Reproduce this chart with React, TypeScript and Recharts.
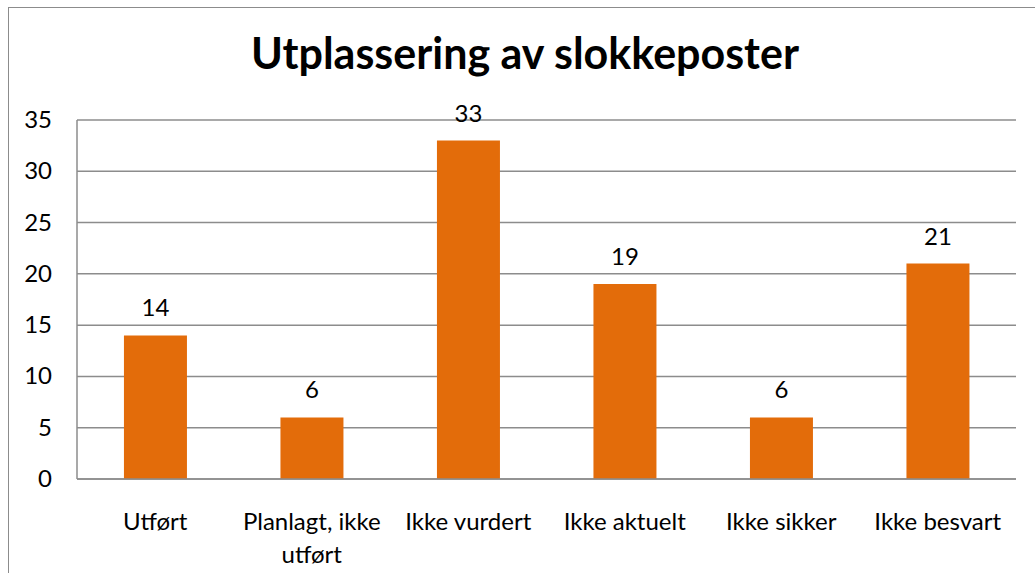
import React from "react";
import { BarChart, Bar, XAxis, YAxis, CartesianGrid, LabelList } from "recharts";

const categories = ["Utført", "Planlagt, ikke utført", "Ikke vurdert", "Ikke aktuelt", "Ikke sikker", "Ikke besvart"];
const values = [14, 6, 33, 19, 6, 21];
const yTicks = [0, 5, 10, 15, 20, 25, 30, 35];
const title = "Utplassering av slokkeposter";

const data = categories.map((c, i) => ({ name: c, value: values[i] }));

const FONT = "Lato, 'Open Sans', sans-serif";
const GRID = "#8c8c8c";
const ORANGE = "#E36C0A";

const wrapLines: Record<string, string[]> = {
  "Planlagt, ikke utført": ["Planlagt, ikke", "utført"],
};

const XTick = (props: any) => {
  const { x, y, payload } = props;
  const lines = wrapLines[payload.value] || [payload.value];
  return (
    <g>
      {lines.map((l: string, i: number) => (
        <text key={i} x={x} y={y + 43 + i * 33} textAnchor="middle" fontFamily={FONT} fontSize={24} fill="#000">
          {l}
        </text>
      ))}
    </g>
  );
};

const YTick = (props: any) => {
  const { x, y, payload } = props;
  return (
    <text x={x} y={y + 8} textAnchor="end" fontFamily={FONT} fontSize={24} fill="#000">
      {payload.value}
    </text>
  );
};

const TopLabel = (props: any) => {
  const { x, y, width, value } = props;
  return (
    <text x={x + width / 2} y={y - 19} textAnchor="middle" fontFamily={FONT} fontSize={24} fill="#000">
      {value}
    </text>
  );
};

export default function App() {
  return (
    <div style={{ position: "absolute", left: 0, top: 0, width: 1035, height: 573, overflow: "hidden", background: "#fff" }}>
      <div
        style={{
          position: "absolute",
          left: 8,
          top: 7,
          width: 1100,
          height: 700,
          borderLeft: "1px solid #8c8c8c",
          borderTop: "1px solid #8c8c8c",
        }}
      />
      <div
        style={{
          position: "absolute",
          left: 0,
          width: 1050,
          top: 28,
          textAlign: "center",
          fontFamily: FONT,
          fontWeight: 700,
          fontSize: 43,
          lineHeight: "50px",
          color: "#000",
        }}
      >
        {title}
      </div>
      <div style={{ position: "absolute", left: 0, top: 0 }}>
        <BarChart
          width={1035}
          height={573}
          data={data}
          margin={{ top: 120, right: 19, left: 17, bottom: 14 }}
          barCategoryGap="30%"
        >
          <CartesianGrid vertical={false} stroke={GRID} strokeWidth={1.5} />
          <XAxis
            dataKey="name"
            interval={0}
            height={80}
            tickLine={false}
            axisLine={{ stroke: GRID, strokeWidth: 1.5 }}
            tick={<XTick />}
          />
          <YAxis
            domain={[0, 35]}
            ticks={yTicks}
            width={60}
            tickLine={false}
            tickSize={0}
            tickMargin={25}
            axisLine={{ stroke: GRID, strokeWidth: 1.5 }}
            tick={<YTick />}
          />
          <Bar dataKey="value" fill={ORANGE} isAnimationActive={false}>
            <LabelList dataKey="value" content={<TopLabel />} />
          </Bar>
        </BarChart>
      </div>
    </div>
  );
}
